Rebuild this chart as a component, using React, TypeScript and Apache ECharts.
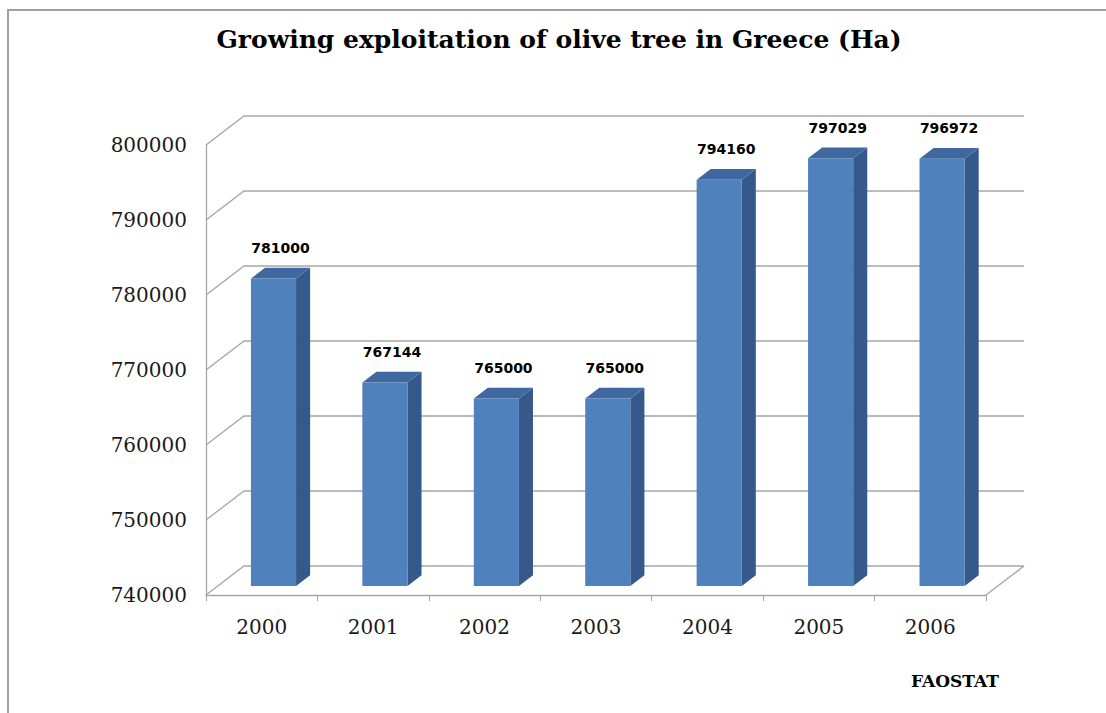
import React, { useEffect, useRef } from "react";
import * as echarts from "echarts";

const years = ["2000", "2001", "2002", "2003", "2004", "2005", "2006"];
const areaHa = [781000, 767144, 765000, 765000, 794160, 797029, 796972];
const yTicks = [740000, 750000, 760000, 770000, 780000, 790000, 800000];
const Y_MIN = 740000;
const Y_MAX = 800000;
const Y_STEP = 10000;

const TITLE = "Growing exploitation of olive tree in Greece (Ha)";
const SOURCE = "FAOSTAT";

// 3D projection constants (pixels)
const DX = 38;
const DY = -29;
const BAR_FRONT = 0.31;
const BAR_DEPTH = 0.37;
const BAR_W = 0.405;

const GRID_COLOR = "#A6A6A6";
const FRONT = "#4F81BD";
const SIDE = "#35598A";
const TOP = "#3E689F";

export default function App() {
  const ref = useRef<HTMLDivElement>(null);
  useEffect(() => {
    document.body.style.margin = "0";
    const chart = echarts.init(ref.current!, null, { renderer: "svg" });
    const option: any = {
      animation: false,
      backgroundColor: "#ffffff",
      grid: { left: 206, right: 120, top: 145, bottom: 118, containLabel: false },
      xAxis: {
        type: "category",
        data: years,
        axisLine: { show: true, lineStyle: { color: GRID_COLOR, width: 1.3 } },
        axisTick: { show: true, length: 6, lineStyle: { color: GRID_COLOR } },
        axisLabel: { margin: 22, fontSize: 20, fontFamily: "DejaVu Serif", color: "#1a1a1a" },
        splitLine: { show: false },
      },
      yAxis: {
        type: "value",
        min: Y_MIN,
        max: Y_MAX,
        interval: Y_STEP,
        axisLine: { show: true, lineStyle: { color: GRID_COLOR, width: 1.3 } },
        axisTick: { show: false },
        splitLine: { show: false },
        axisLabel: {
          margin: 19,
          fontSize: 20,
          fontFamily: "DejaVu Serif",
          color: "#1a1a1a",
          formatter: (v: number) => String(v),
        },
      },
      graphic: [
        {
          type: "rect",
          shape: { x: 8, y: 10, width: 1120, height: 720 },
          style: { fill: "none", stroke: "#A0A0A0", lineWidth: 2 },
          silent: true,
        },
        {
          type: "text",
          x: 559,
          y: 39,
          style: {
            text: TITLE,
            font: "bold 25px 'DejaVu Serif'",
            fill: "#000",
            textAlign: "center",
            textVerticalAlign: "middle",
            align: "center",
            verticalAlign: "middle",
          },
        },
        {
          type: "text",
          x: 955,
          y: 681,
          style: {
            text: SOURCE,
            font: "bold 17px 'DejaVu Serif'",
            fill: "#000",
            textAlign: "center",
            textVerticalAlign: "middle",
            align: "center",
            verticalAlign: "middle",
          },
        },
      ],
      series: [
        {
          type: "custom",
          name: "grid",
          z: 1,
          silent: true,
          data: yTicks.map((v) => [0, v]),
          renderItem: (params: any, api: any) => {
            const v = api.value(1);
            const p = api.coord([0, v]);
            const cs = params.coordSys;
            const left = cs.x;
            const right = cs.x + cs.width;
            const y = p[1];
            const children: any[] = [
              {
                type: "polyline",
                shape: { points: [[left, y], [left + DX, y + DY], [right + DX, y + DY]] },
                style: { fill: "none", stroke: GRID_COLOR, lineWidth: 1.3 },
              },
            ];
            if (v === Y_MIN) {
              children.push({
                type: "line",
                shape: { x1: right, y1: y, x2: right + DX, y2: y + DY },
                style: { stroke: GRID_COLOR, lineWidth: 1.3 },
              });
            }
            return { type: "group", children };
          },
        },
        {
          type: "custom",
          name: "Ha",
          z: 3,
          data: areaHa.map((v, i) => [i, v]),
          renderItem: (params: any, api: any) => {
            const idx = api.value(0);
            const v = api.value(1);
            const top = api.coord([idx, v]);
            const base = api.coord([idx, Y_MIN]);
            const bw = api.size([1, 0])[0] * BAR_W;
            const ox = DX * BAR_FRONT;
            const oy = DY * BAR_FRONT;
            const bx = DX * BAR_DEPTH;
            const by = DY * BAR_DEPTH;
            const x0 = top[0] - bw / 2 + ox;
            const x1 = x0 + bw;
            const yt = top[1] + oy;
            const yb = base[1] + oy;
            return {
              type: "group",
              children: [
                {
                  type: "polygon",
                  shape: { points: [[x1, yt], [x1 + bx, yt + by], [x1 + bx, yb + by], [x1, yb]] },
                  style: { fill: SIDE },
                },
                {
                  type: "polygon",
                  shape: { points: [[x0, yt], [x0 + bx, yt + by], [x1 + bx, yt + by], [x1, yt]] },
                  style: { fill: TOP },
                },
                {
                  type: "rect",
                  shape: { x: x0, y: yt, width: bw, height: yb - yt },
                  style: { fill: FRONT },
                },
                {
                  type: "text",
                  x: (x0 + x1) / 2 + bx / 2,
                  y: yt + by - 20,
                  style: {
                    text: String(v),
                    font: "bold 14px 'DejaVu Sans'",
                    fill: "#000",
                    textAlign: "center",
                    textVerticalAlign: "middle",
                    align: "center",
                    verticalAlign: "middle",
                  },
                },
              ],
            };
          },
        },
      ],
    };
    chart.setOption(option);
    return () => chart.dispose();
  }, []);
  return <div ref={ref} style={{ width: 1106, height: 713 }} />;
}
